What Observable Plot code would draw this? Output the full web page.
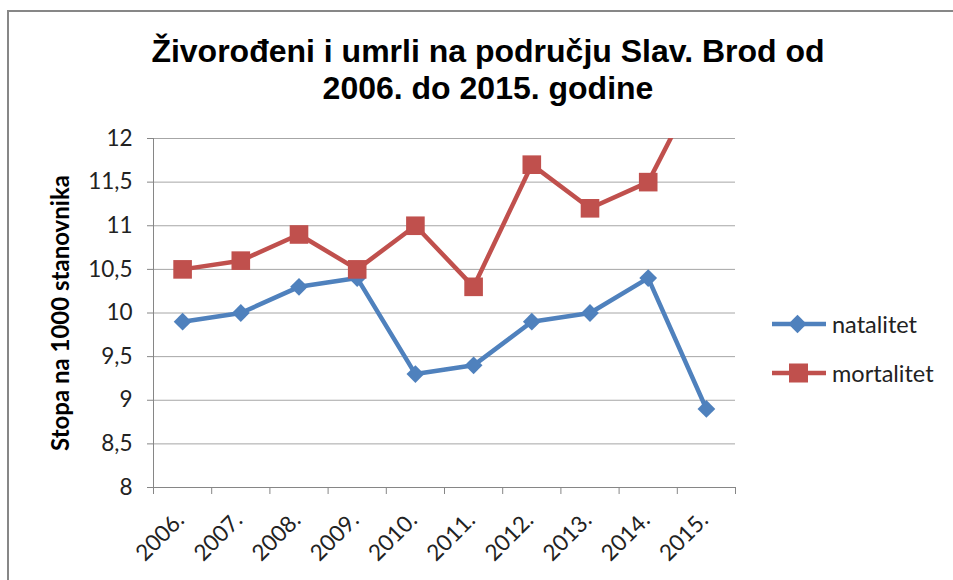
<!DOCTYPE html>
<html>
<head>
<meta charset="utf-8">
<script src="https://cdn.jsdelivr.net/npm/d3@7"></script>
<script src="https://cdn.jsdelivr.net/npm/@observablehq/plot@0.6"></script>
<style>
  body { margin: 0; background: #fff; }
  #wrap { position: relative; width: 953px; height: 580px; overflow: hidden; background: #fff; font-family: Lato, "Open Sans", sans-serif; }
  #border { position: absolute; left: 7px; top: 10px; width: 2000px; height: 2000px; border-left: 2px solid #878787; border-top: 2px solid #878787; }
  #title { position: absolute; left: 0; width: 976px; top: 33px; text-align: center; font-family: "Liberation Sans", Arial, sans-serif; font-weight: bold; font-size: 32px; line-height: 37px; color: #000; white-space: nowrap; }
  #chart { position: absolute; left: 0; top: 0; }
  .leg { position: absolute; left: 771px; height: 24px; display: flex; align-items: center; font-size: 23.5px; color: #222; }
  .leg svg { margin-right: 5px; }
</style>
</head>
<body>
<div id="wrap">
  <div id="border"></div>
  <div id="chart"></div>
  <div id="title">Živorođeni i umrli na području Slav. Brod od<br>2006. do 2015. godine</div>
  <div id="legend"></div>
</div>
<script>
const years = ["2006.", "2007.", "2008.", "2009.", "2010.", "2011.", "2012.", "2013.", "2014.", "2015."];
const natalitet = [9.9, 10.0, 10.3, 10.4, 9.3, 9.4, 9.9, 10.0, 10.4, 8.9];
const mortalitet = [10.5, 10.6, 10.9, 10.5, 11.0, 10.3, 11.7, 11.2, 11.5, 12.8];
const yTicks = [8, 8.5, 9, 9.5, 10, 10.5, 11, 11.5, 12];
const seriesNames = ["natalitet", "mortalitet"];
const seriesColors = ["#4F81BD", "#C0504D"];
const yTitle = "Stopa na 1000 stanovnika";

const rows = years.map((year, i) => ({i, year, natalitet: natalitet[i], mortalitet: mortalitet[i]}));
const xc = d => d.i + 0.5;
const fmt = d => String(d).replace(".", ",");

const chart = Plot.plot({
  width: 953,
  height: 580,
  marginLeft: 153,
  marginRight: 218,
  marginTop: 138,
  marginBottom: 93,
  style: {background: "transparent", fontFamily: "Lato, 'Open Sans', sans-serif", color: "#222"},
  x: {type: "linear", domain: [0, years.length], axis: null},
  y: {domain: [8, 12], axis: null},
  marks: [
    Plot.gridY(yTicks, {stroke: "#a6a6a6", strokeOpacity: 1}),
    Plot.axisY(yTicks, {anchor: "left", tickSize: 6, tickPadding: 15, tickFormat: fmt, fontSize: 22.5, stroke: "#868686", fill: "#222", label: null}),
    Plot.axisX(d3.range(years.length + 1), {anchor: "bottom", tickSize: 7, tickFormat: () => "", stroke: "#868686", label: null}),
    Plot.ruleX([0], {stroke: "#868686"}),
    Plot.ruleY([8], {stroke: "#868686"}),
    Plot.text(rows, {x: xc, frameAnchor: "bottom", text: "year", rotate: -45, textAnchor: "end", dx: 3, dy: 34, fontSize: 22.5, fill: "#222"}),
    Plot.text([yTitle], {frameAnchor: "left", textAnchor: "middle", rotate: -90, dx: -92, fontWeight: "bold", fontSize: 24, fill: "#000"}),
    Plot.line(rows, {x: xc, y: "natalitet", stroke: seriesColors[0], strokeWidth: 4.5, clip: true}),
    Plot.dot(rows, {x: xc, y: "natalitet", symbol: "diamond2", r: 8, fill: seriesColors[0], stroke: null, clip: true}),
    Plot.line(rows, {x: xc, y: "mortalitet", stroke: seriesColors[1], strokeWidth: 4.5, clip: true}),
    Plot.dot(rows, {x: xc, y: "mortalitet", symbol: "square", r: 10.5, fill: seriesColors[1], stroke: null, clip: true})
  ]
});
document.getElementById("chart").appendChild(chart);

// Legend
const legend = document.getElementById("legend");
const legendTops = [312, 361];
seriesNames.forEach((name, k) => {
  const item = document.createElement("div");
  item.className = "leg";
  item.style.top = legendTops[k] + "px";
  const marker = k === 0
    ? `<rect x="20" y="5.5" width="13" height="13" transform="rotate(45 26.5 12)" fill="${seriesColors[k]}"/>`
    : `<rect x="18" y="2.5" width="19" height="19" fill="${seriesColors[k]}"/>`;
  item.innerHTML = `<svg width="56" height="24" viewBox="0 0 56 24"><line x1="1" x2="55" y1="12" y2="12" stroke="${seriesColors[k]}" stroke-width="4.5"/>${marker}</svg><span>${name}</span>`;
  legend.appendChild(item);
});
</script>
</body>
</html>
